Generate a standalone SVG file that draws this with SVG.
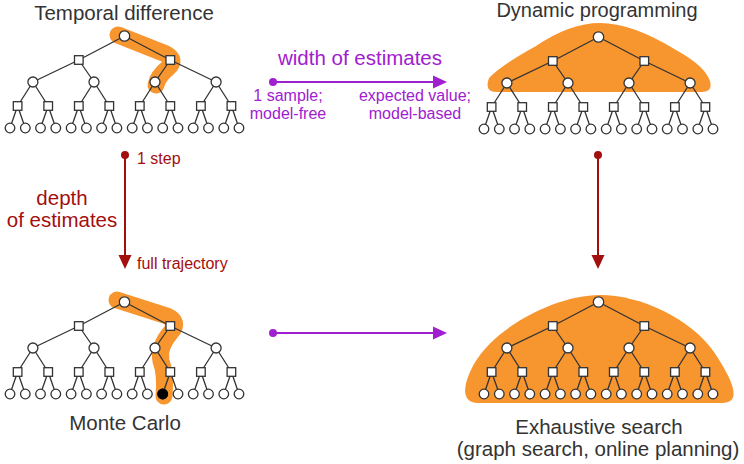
<svg xmlns="http://www.w3.org/2000/svg" xmlns:xlink="http://www.w3.org/1999/xlink" width="744" height="464" viewBox="0 0 744 464">
<style>
.title{font-family:"Liberation Sans",Arial,sans-serif;font-size:20.5px;fill:#333;text-anchor:middle}
.purple{font-family:"Liberation Sans",Arial,sans-serif;fill:#a020d0}
.red{font-family:"Liberation Sans",Arial,sans-serif;fill:#a30e0e}
.big{font-size:20.5px}
.small{font-size:16px}
.mid{text-anchor:middle}
.edge{stroke:#333;stroke-width:1.3;fill:none}
.nd{stroke:#333;stroke-width:1.3;fill:#fff}
.blob{fill:#f7952f}
.hl{stroke:#f7952f;fill:none;stroke-linecap:round;stroke-linejoin:round}
.pline{stroke:#a020d0;stroke-width:2;fill:none}
.rline{stroke:#a30e0e;stroke-width:2;fill:none}
</style>
<defs>
<marker id="ahP" markerUnits="userSpaceOnUse" markerWidth="16" markerHeight="14" refX="4" refY="7" orient="auto"><path d="M0,0.5 L14,7 L0,13.5 Z" fill="#a020d0"/></marker>
<marker id="dotP" markerUnits="userSpaceOnUse" markerWidth="10" markerHeight="10" refX="5" refY="5"><circle cx="5" cy="5" r="4" fill="#a020d0"/></marker>
<marker id="ahR" markerUnits="userSpaceOnUse" markerWidth="16" markerHeight="14" refX="4" refY="7" orient="auto"><path d="M0,0.5 L14,7 L0,13.5 Z" fill="#a30e0e"/></marker>
<marker id="dotR" markerUnits="userSpaceOnUse" markerWidth="10" markerHeight="10" refX="5" refY="5"><circle cx="5" cy="5" r="4" fill="#a30e0e"/></marker>
<g id="tree">
<path class="edge" d="M124.5,36L78.8,60M124.5,36L170.3,60
M78.8,60L32.9,82M78.8,60L94,82M170.3,60L155,82M170.3,60L216.1,82
M32.9,82L17.6,106M32.9,82L48.2,106M94,82L78.8,106M94,82L109.3,106M155,82L139.8,106M155,82L170.3,106M216.1,82L200.9,106M216.1,82L231.4,106
M17.6,106L10,128M17.6,106L25.3,128M48.2,106L40.5,128M48.2,106L55.8,128M78.8,106L71.1,128M78.8,106L86.4,128M109.3,106L101.6,128M109.3,106L116.9,128
M139.8,106L132.2,128M139.8,106L147.4,128M170.3,106L162.7,128M170.3,106L178,128M200.9,106L193.2,128M200.9,106L208.5,128M231.4,106L223.8,128M231.4,106L239,128"/>
<circle class="nd" cx="124.5" cy="36" r="5.2"/>
<rect class="nd" x="74.5" y="55.7" width="8.6" height="8.6"/>
<rect class="nd" x="166" y="55.7" width="8.6" height="8.6"/>
<circle class="nd" cx="32.9" cy="82" r="5"/>
<circle class="nd" cx="94" cy="82" r="5"/>
<circle class="nd" cx="155" cy="82" r="5"/>
<circle class="nd" cx="216.1" cy="82" r="5"/>
<rect class="nd" x="13.3" y="101.7" width="8.6" height="8.6"/>
<rect class="nd" x="43.9" y="101.7" width="8.6" height="8.6"/>
<rect class="nd" x="74.5" y="101.7" width="8.6" height="8.6"/>
<rect class="nd" x="105" y="101.7" width="8.6" height="8.6"/>
<rect class="nd" x="135.5" y="101.7" width="8.6" height="8.6"/>
<rect class="nd" x="166" y="101.7" width="8.6" height="8.6"/>
<rect class="nd" x="196.6" y="101.7" width="8.6" height="8.6"/>
<rect class="nd" x="227.1" y="101.7" width="8.6" height="8.6"/>
<circle class="nd" cx="10" cy="128" r="4.8"/>
<circle class="nd" cx="25.3" cy="128" r="4.8"/>
<circle class="nd" cx="40.5" cy="128" r="4.8"/>
<circle class="nd" cx="55.8" cy="128" r="4.8"/>
<circle class="nd" cx="71.1" cy="128" r="4.8"/>
<circle class="nd" cx="86.4" cy="128" r="4.8"/>
<circle class="nd" cx="101.6" cy="128" r="4.8"/>
<circle class="nd" cx="116.9" cy="128" r="4.8"/>
<circle class="nd" cx="132.2" cy="128" r="4.8"/>
<circle class="nd" cx="147.4" cy="128" r="4.8"/>
<circle class="nd" cx="162.7" cy="128" r="4.8"/>
<circle class="nd" cx="178" cy="128" r="4.8"/>
<circle class="nd" cx="193.2" cy="128" r="4.8"/>
<circle class="nd" cx="208.5" cy="128" r="4.8"/>
<circle class="nd" cx="223.8" cy="128" r="4.8"/>
<circle class="nd" cx="239" cy="128" r="4.8"/>
</g>
</defs>
<rect width="744" height="464" fill="#fff"/>

<g id="td">
<path class="hl" stroke-width="17" d="M118,35 L166,54 Q177,60 168,68 Q158,76 156,85"/>
<use xlink:href="#tree" href="#tree"/>
<text class="title" x="124" y="20">Temporal difference</text>
</g>

<g id="dp">
<path class="blob" d="M496,92 L702,92 Q713,92 710,81 Q705,66 676,50 Q632,23 600,23 Q570,23 536,46 Q500,66 489,78 Q484,92 496,92 Z"/>
<use xlink:href="#tree" href="#tree" transform="translate(474,1)"/>
<text class="title" x="597" y="17" style="font-size:20px">Dynamic programming</text>
</g>

<g id="mc">
<path class="hl" stroke-width="17" d="M117,300 L167,316 Q180,322 171,332 Q158,347 161,361 Q166,374 164,396"/>
<use xlink:href="#tree" href="#tree" transform="translate(0,266)"/>
<circle cx="162.7" cy="394" r="4.8" fill="#000" stroke="#000" stroke-width="1.3"/>
<text class="title" x="125" y="430">Monte Carlo</text>
</g>

<g id="es">
<path class="blob" d="M600,295 C640,295 690,318 714,352 C734,382 742,403 722,403 L478,403 C460,403 463,384 474,364 C494,328 555,295 600,295 Z"/>
<use xlink:href="#tree" href="#tree" transform="translate(474,266)"/>
<text class="title" x="599" y="434">Exhaustive search</text>
<text class="title" x="598" y="456">(graph search, online planning)</text>
</g>

<g id="connectors">
<line class="pline" x1="273" y1="82" x2="437" y2="82" marker-start="url(#dotP)" marker-end="url(#ahP)"/>
<line class="pline" x1="273" y1="333" x2="437" y2="333" marker-start="url(#dotP)" marker-end="url(#ahP)"/>
<line class="rline" x1="125" y1="155" x2="125" y2="259" marker-start="url(#dotR)" marker-end="url(#ahR)"/>
<line class="rline" x1="598" y1="155" x2="598" y2="259" marker-start="url(#dotR)" marker-end="url(#ahR)"/>
<text class="purple big mid" x="360" y="65">width of estimates</text>
<text class="purple small mid" x="288" y="101">1 sample;</text>
<text class="purple small mid" x="288" y="119">model-free</text>
<text class="purple small mid" x="415" y="101">expected value;</text>
<text class="purple small mid" x="415" y="119">model-based</text>
<text class="red small" x="137" y="164">1 step</text>
<text class="red small" x="137" y="269">full trajectory</text>
<text class="red big mid" x="62" y="205">depth</text>
<text class="red big mid" x="62" y="227">of estimates</text>
</g>
</svg>
